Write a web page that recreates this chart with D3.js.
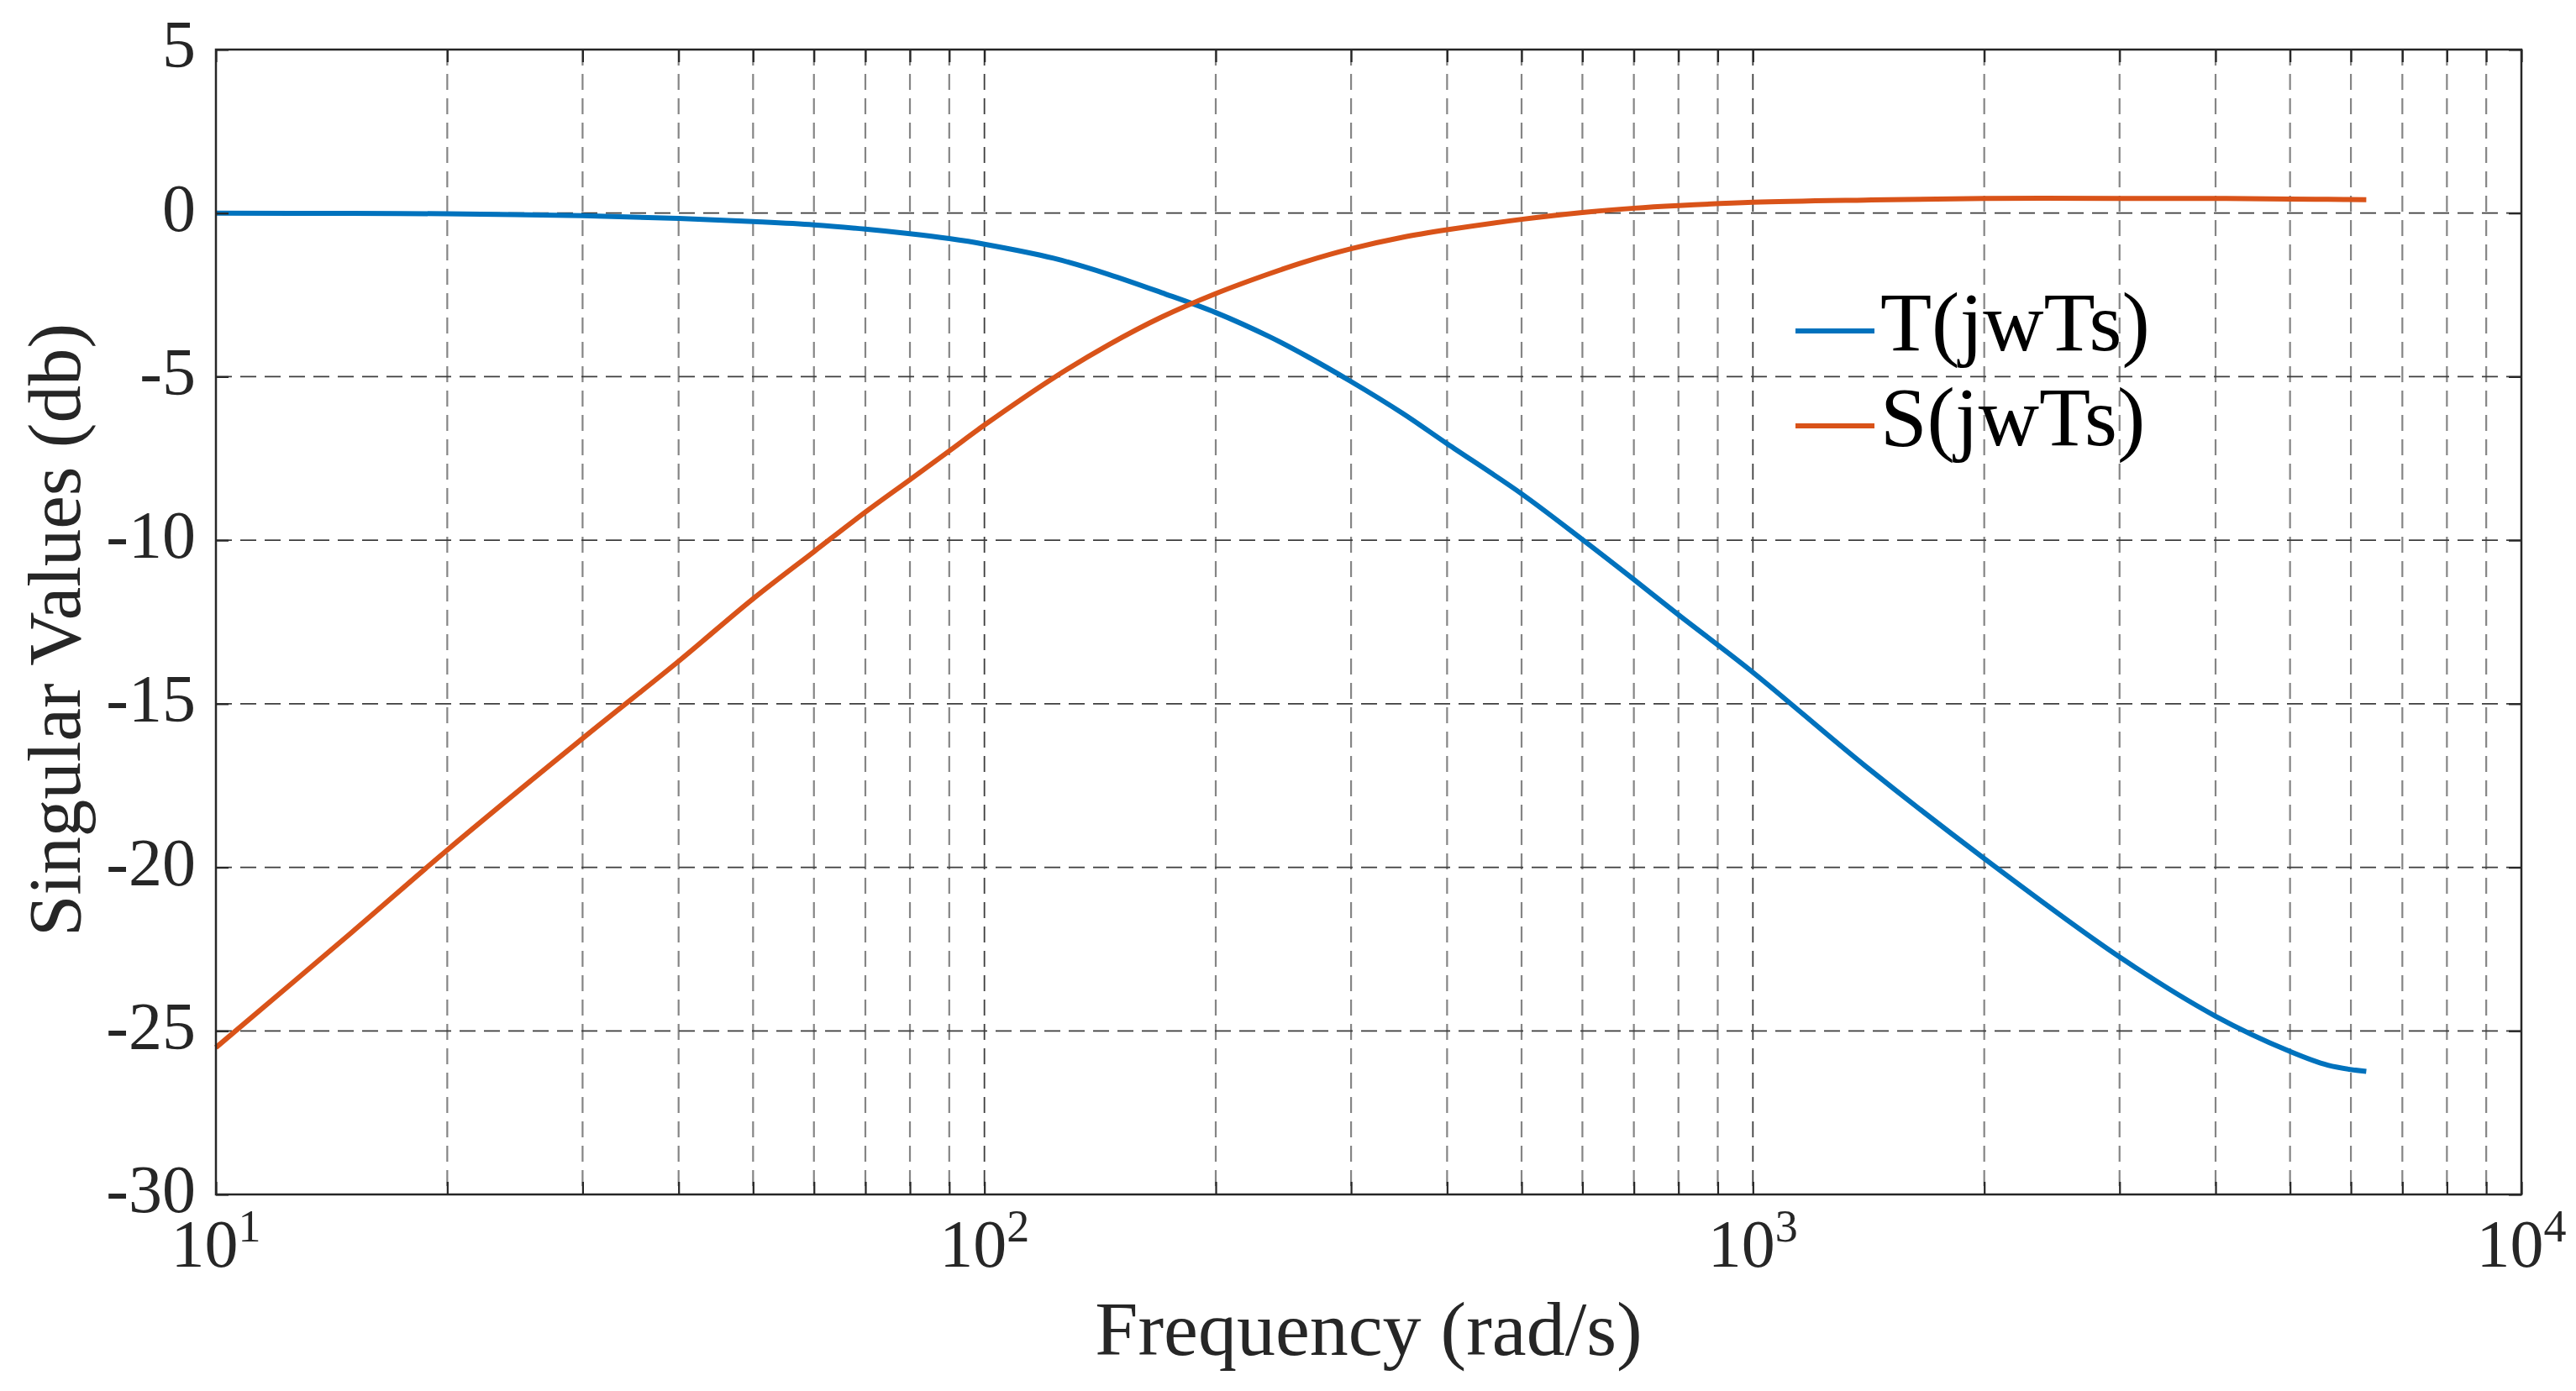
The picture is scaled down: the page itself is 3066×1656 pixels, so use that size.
<!DOCTYPE html>
<html><head><meta charset="utf-8">
<script src="https://cdn.jsdelivr.net/npm/d3@7"></script>
<style>body{margin:0;background:#fff} svg{display:block}</style>
</head><body>
<svg id="c" width="3066" height="1656"></svg>
<script>
// ---- data ----
const freq = [10, 15, 20, 30, 40, 50, 60, 70, 80, 90, 100, 123, 145, 170, 200, 235, 262, 300, 350, 400, 500, 600, 700, 800, 1000, 1400, 2000, 3000, 4000, 5000, 5600, 6283];
const tMag = [0, -0.01, -0.02, -0.08, -0.16, -0.26, -0.36, -0.49, -0.63, -0.78, -0.95, -1.38, -1.87, -2.43, -3.04, -3.78, -4.36, -5.15, -6.12, -7.05, -8.58, -9.98, -11.2, -12.28, -14.04, -16.9, -19.73, -22.74, -24.55, -25.63, -26.05, -26.24];
const sMag = [-25.51, -22.0, -19.47, -16.06, -13.70, -11.79, -10.35, -9.14, -8.15, -7.27, -6.48, -5.04, -4.03, -3.18, -2.46, -1.85, -1.48, -1.09, -0.74, -0.51, -0.19, 0.02, 0.15, 0.23, 0.33, 0.40, 0.45, 0.45, 0.45, 0.43, 0.42, 0.41];
const yTicks = [5, 0, -5, -10, -15, -20, -25, -30];
const xMajor = [10, 100, 1000, 10000];
const xMajorBase = ["10", "10", "10", "10"];
const xMajorExp = ["1", "2", "3", "4"];
const seriesNames = ["T(jwTs)", "S(jwTs)"];
const seriesColors = ["#0072BD", "#D95319"];
const xLabel = "Frequency (rad/s)";
const yLabel = "Singular Values (db)";

// ---- layout ----
const m = {left: 257, right: 3001, top: 59, bottom: 1422};
const FONT = "Liberation Serif, DejaVu Serif, Noto Serif, serif";
const svg = d3.select("#c");
const x = d3.scaleLog().domain([10, 10000]).range([m.left, m.right]);
const y = d3.scaleLinear().domain([-30, 5]).range([m.bottom, m.top]);
const xAll = x.ticks();
const isMajor = d => Math.abs(Math.log10(d) - Math.round(Math.log10(d))) < 1e-9;

// grid
const grid = svg.append("g");
grid.selectAll("line.vminor").data(xAll.filter(d => !isMajor(d)))
  .join("line").attr("x1", d => x(d)).attr("x2", d => x(d))
  .attr("y1", m.top).attr("y2", m.bottom)
  .attr("stroke", "#858585").attr("stroke-width", 2.2).attr("stroke-dasharray", "19,10");
grid.selectAll("line.vmajor").data(xMajor.filter(d => d > 10 && d < 10000))
  .join("line").attr("x1", d => x(d)).attr("x2", d => x(d))
  .attr("y1", m.top).attr("y2", m.bottom)
  .attr("stroke", "#3d3d3d").attr("stroke-width", 1.8).attr("stroke-dasharray", "19,10");
grid.selectAll("line.h").data(yTicks.filter(d => d > -30 && d < 5))
  .join("line").attr("x1", m.left).attr("x2", m.right)
  .attr("y1", d => y(d)).attr("y2", d => y(d))
  .attr("stroke", "#3d3d3d").attr("stroke-width", 1.8).attr("stroke-dasharray", "19,10");

// curves
const line = d3.line().x(d => x(d[0])).y(d => y(d[1])).curve(d3.curveCatmullRom.alpha(0.5));
[tMag, sMag].forEach((vals, i) => {
  svg.append("path").datum(freq.map((f, j) => [f, vals[j]]))
    .attr("d", line).attr("fill", "none")
    .attr("stroke", seriesColors[i]).attr("stroke-width", 6);
});

// axes (ticks inside)
const tickCol = "#262626";
function styleAxis(g) {
  g.select(".domain").remove();
  g.selectAll(".tick line").attr("stroke", tickCol).attr("stroke-width", 2.2);
}
svg.append("g").attr("transform", `translate(0,${m.bottom})`)
  .call(d3.axisBottom(x).tickValues(xAll).tickSizeInner(-15).tickSizeOuter(0).tickFormat(""))
  .call(styleAxis);
svg.append("g").attr("transform", `translate(0,${m.top})`)
  .call(d3.axisTop(x).tickValues(xAll).tickSizeInner(-15).tickSizeOuter(0).tickFormat(""))
  .call(styleAxis);
const yl = svg.append("g").attr("transform", `translate(${m.left},0)`)
  .call(d3.axisLeft(y).tickValues(yTicks).tickSizeInner(-15).tickSizeOuter(0).tickPadding(24).tickFormat(d => String(d)))
  .call(styleAxis);
yl.selectAll(".tick text").attr("font-family", FONT).attr("font-size", 80)
  .attr("fill", "#262626").attr("dy", "0.26em");
svg.append("g").attr("transform", `translate(${m.right},0)`)
  .call(d3.axisRight(y).tickValues(yTicks).tickSizeInner(-15).tickSizeOuter(0).tickFormat(""))
  .call(styleAxis);

// x tick labels with superscripts
const xl = svg.append("g");
xMajor.forEach((d, i) => {
  const t = xl.append("text").attr("x", x(d)).attr("y", 1508)
    .attr("text-anchor", "middle").attr("font-family", FONT).attr("fill", "#262626");
  t.append("tspan").attr("font-size", 80).text(xMajorBase[i]);
  t.append("tspan").attr("font-size", 54).attr("dy", -30).text(xMajorExp[i]);
});

// box
svg.append("rect").attr("x", m.left).attr("y", m.top)
  .attr("width", m.right - m.left).attr("height", m.bottom - m.top)
  .attr("fill", "none").attr("stroke", tickCol).attr("stroke-width", 2.5);

// axis labels
svg.append("text").attr("x", (m.left + m.right) / 2).attr("y", 1613)
  .attr("text-anchor", "middle").attr("font-family", FONT).attr("font-size", 92)
  .attr("fill", "#262626").text(xLabel);
svg.append("text").attr("transform", `translate(95,750) rotate(-90)`)
  .attr("text-anchor", "middle").attr("font-family", FONT).attr("font-size", 89)
  .attr("fill", "#262626").text(yLabel);

// legend
const lg = svg.append("g");
seriesNames.forEach((n, i) => {
  const yy = 394 + i * 113;
  lg.append("line").attr("x1", 2137).attr("x2", 2231).attr("y1", yy).attr("y2", yy)
    .attr("stroke", seriesColors[i]).attr("stroke-width", 6);
  lg.append("text").attr("x", 2238).attr("y", yy + 23)
    .attr("font-family", FONT).attr("font-size", 100).attr("fill", "#000").text(n);
});
</script>
</body></html>
